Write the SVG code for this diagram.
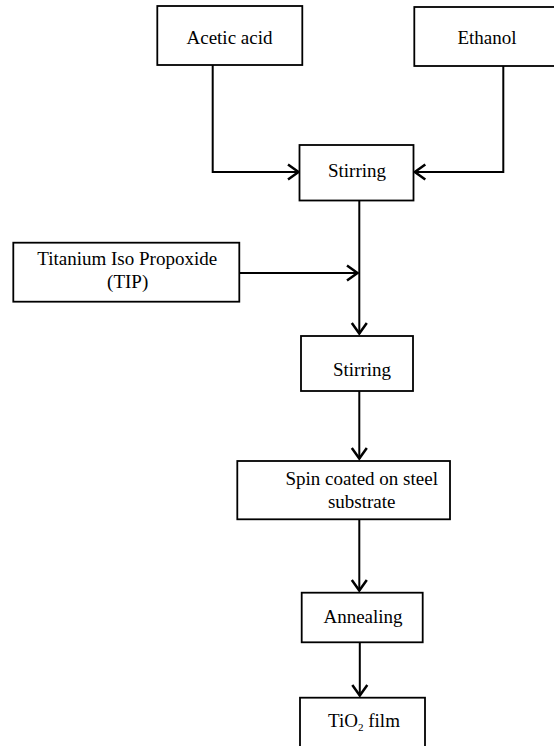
<svg xmlns="http://www.w3.org/2000/svg" width="554" height="746" viewBox="0 0 554 746">
<style>
.box{fill:#fff;stroke:#000;stroke-width:1.8}
.t{font-family:"Liberation Serif","Times New Roman",serif;font-size:19px;fill:#000;text-anchor:middle}
.c{fill:none;stroke:#000;stroke-width:2;marker-end:url(#ah)}
</style>
<defs>
<marker id="ah" viewBox="0 0 14 18" refX="12.5" refY="9" markerWidth="14" markerHeight="18" markerUnits="userSpaceOnUse" orient="auto">
<path d="M1.5,1.5 L12,9 L1.5,16.5" fill="none" stroke="#000" stroke-width="2.5"/>
</marker>
</defs>
<rect width="554" height="746" fill="#fff"/>
<g id="connectors">
<polyline class="c" points="212.7,65 212.7,172 299,172"/>
<polyline class="c" points="503.3,66 503.3,172 414.3,172"/>
<line class="c" x1="359.3" y1="201" x2="359.3" y2="334"/>
<line class="c" x1="239" y1="273" x2="358" y2="273"/>
<line class="c" x1="359.3" y1="391" x2="359.3" y2="459"/>
<line class="c" x1="359.3" y1="519" x2="359.3" y2="591"/>
<line class="c" x1="359.8" y1="642" x2="359.8" y2="696"/>
</g>
<g id="acetic">
<rect class="box" x="157.3" y="6" width="145" height="59"/>
<text class="t" x="229.5" y="43.5">Acetic acid</text>
</g>
<g id="ethanol">
<rect class="box" x="414.3" y="7" width="145" height="59"/>
<text class="t" x="487" y="43.5">Ethanol</text>
</g>
<g id="stirring1">
<rect class="box" x="299.5" y="145" width="114" height="55.5"/>
<text class="t" x="357" y="177">Stirring</text>
</g>
<g id="tip">
<rect class="box" x="13.3" y="242.7" width="226" height="59"/>
<text class="t" x="127.2" y="265">Titanium Iso Propoxide</text>
<text class="t" x="127.7" y="288">(TIP)</text>
</g>
<g id="stirring2">
<rect class="box" x="301" y="336" width="112" height="55"/>
<text class="t" x="362" y="375.5">Stirring</text>
</g>
<g id="spin">
<rect class="box" x="237.3" y="461" width="212.7" height="58.3"/>
<text class="t" x="361.7" y="485">Spin coated on steel</text>
<text class="t" x="361.7" y="508">substrate</text>
</g>
<g id="annealing">
<rect class="box" x="301.7" y="592.7" width="121" height="49.6"/>
<text class="t" x="363" y="622.5">Annealing</text>
</g>
<g id="tio2">
<rect class="box" x="300" y="697.7" width="125" height="60"/>
<text class="t" x="364" y="726.5">TiO<tspan font-size="11" dy="4">2</tspan><tspan dy="-4"> film</tspan></text>
</g>
</svg>
